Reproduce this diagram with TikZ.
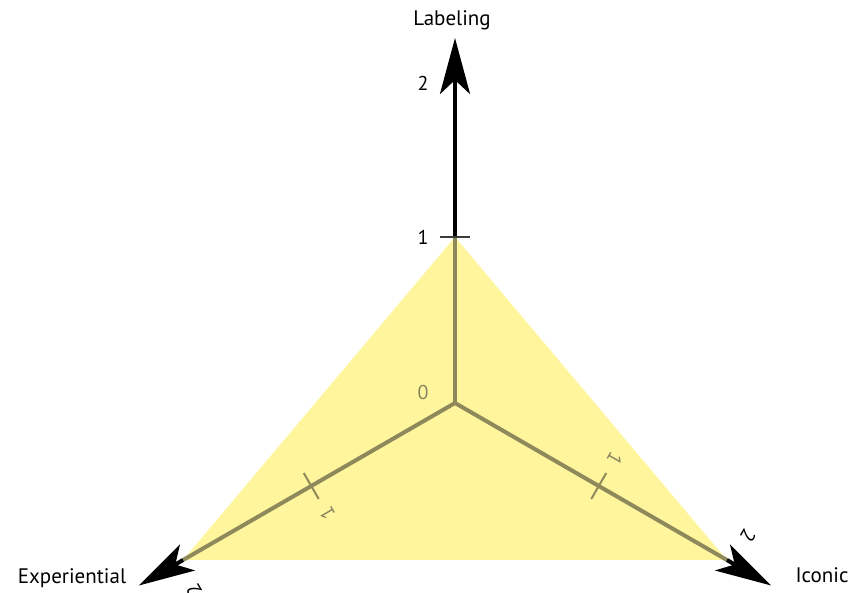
\documentclass[tikz,border=0pt]{standalone}
\usepackage{fontspec}
\setmainfont{PT Sans}
\usetikzlibrary{arrows.meta}
\definecolor{tri}{HTML}{FFF59D}
\definecolor{olive}{HTML}{8E895A}
\definecolor{tickgray}{HTML}{3C3C3C}
\definecolor{lblgray}{HTML}{8A8660}
\tikzset{
  axisin/.style={draw=olive,line width=4pt},
  axisout/.style={draw=black,line width=4pt,-{Stealth[length=56pt,width=30pt,inset=14pt]}},
  tickmark/.style={line width=2pt},
  lbl/.style={font=\fontsize{20}{24}\selectfont,inner sep=0pt},
  title/.style={font=\fontsize{21}{25}\selectfont,inner sep=0pt,text=black},
}
\begin{document}
\begin{tikzpicture}[x=1pt,y=1pt]
\useasboundingbox (0,0) rectangle (851,593);
\begin{scope}[shift={(455,190)}]
  \coordinate (O) at (0,0);
  \coordinate (A) at (0,166);
  \coordinate (L) at (210:314);
  \coordinate (R) at (-30:314);
  \fill[tri] (A) -- (L) -- (R) -- cycle;
  % vertical axis
  \coordinate (vtip) at (0,365);
  \draw[axisin] (O) -- (A);
  \draw[axisout] (A) -- (vtip);
  \coordinate (vt1) at (-15,166);
  \coordinate (vt2) at (15,166);
  \draw[tickmark,tickgray] (vt1) -- (vt2);
  \node[lbl,text=black] (v1) at (-32,166) {1};
  \node[lbl,text=black] (v2) at (-32,320) {2};
  \node[lbl,text=lblgray] (zero) at (-32,10) {0};
  % left axis
  \begin{scope}[rotate=120]
    \coordinate (Lv) at (0,314);
    \coordinate (ltip) at (0,365);
    \draw[axisin] (O) -- (Lv);
    \draw[axisout] (Lv) -- (ltip);
    \coordinate (lt1) at (-15,166);
    \coordinate (lt2) at (15,166);
    \draw[tickmark,olive] (lt1) -- (lt2);
    \node[lbl,text=lblgray,rotate=120] (l1) at (-32,166) {1};
    \node[lbl,text=black,rotate=120] (l2) at (-32,320) {2};
  \end{scope}
  % right axis
  \begin{scope}[rotate=-120]
    \coordinate (Rv) at (0,314);
    \coordinate (rtip) at (0,365);
    \draw[axisin] (O) -- (Rv);
    \draw[axisout] (Rv) -- (rtip);
    \coordinate (rt1) at (-15,166);
    \coordinate (rt2) at (15,166);
    \draw[tickmark,olive] (rt1) -- (rt2);
    \node[lbl,text=lblgray,rotate=-120] (r1) at (-32,166) {1};
    \node[lbl,text=black,rotate=-120] (r2) at (-32,320) {2};
  \end{scope}
  \node[title] (labeling) at (-3,383) {Labeling};
  \node[title] (exper) at (-383,-175) {Experiential};
  \node[title] (iconic) at (367,-172) {Iconic};
\end{scope}
\end{tikzpicture}
\end{document}
